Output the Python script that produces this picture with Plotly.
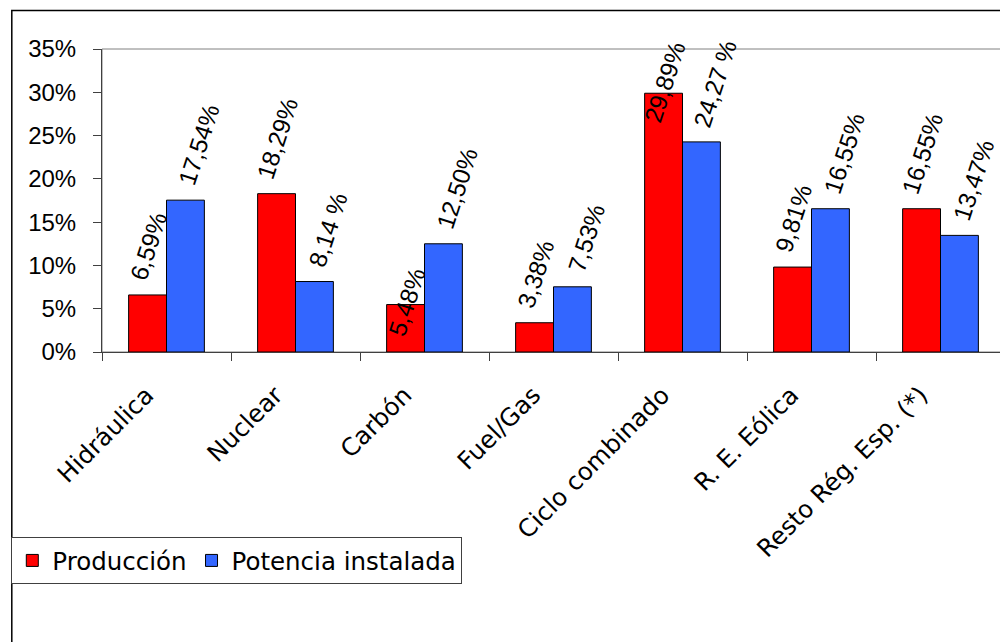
import plotly.graph_objects as go

categories = ["Hidráulica", "Nuclear", "Carbón", "Fuel/Gas", "Ciclo combinado", "R. E. Eólica", "Resto Rég. Esp. (*)"]
produccion = [6.59, 18.29, 5.48, 3.38, 29.89, 9.81, 16.55]
potencia = [17.54, 8.14, 12.50, 7.53, 24.27, 16.55, 13.47]
produccion_labels = ["6,59%", "18,29%", "5,48%", "3,38%", "29,89%", "9,81%", "16,55%"]
potencia_labels = ["17,54%", "8,14 %", "12,50%", "7,53%", "24,27 %", "16,55%", "13,47%"]
y_ticks = [0, 5, 10, 15, 20, 25, 30, 35]
y_ticktext = ["0%", "5%", "10%", "15%", "20%", "25%", "30%", "35%"]

RED = "#FF0000"
BLUE = "#3366FF"
LABEL_FONT = dict(family="Liberation Sans, Arial, sans-serif", size=24.5, color="black")
YTICK_FONT = dict(family="Liberation Sans, Arial, sans-serif", size=24, color="black")
TEXT_FONT = dict(family="DejaVu Sans, sans-serif", size=24.5, color="black")

# page has an 8px body margin: figure occupies page pixels 8..1008 x 8..642
OFF = 8
W, H = 1000, 634
PL, PR, PT, PB = 99, 1005, 49, 352   # plot area in page pixels
ML, MR, MT, MB = PL - OFF, (W + OFF) - PR, PT - OFF, (H + OFF) - PB
PW = PR - PL
PH = PB - PT

def px_x(p):
    return (p - PL) / PW

def px_y(p):
    return (PB - p) / PH

fig = go.Figure()
fig.add_trace(go.Bar(name="Producción", x=categories, y=produccion,
                     marker=dict(color=RED, line=dict(color="black", width=1))))
fig.add_trace(go.Bar(name="Potencia instalada", x=categories, y=potencia,
                     marker=dict(color=BLUE, line=dict(color="black", width=1))))

bargap = 0.413
half = (1 - bargap) / 4
# label nudges (style): labels moved inside in the original chart
nudge = {(0, 2): -46, (0, 4): -44}
series_xshift = [1, 14]
annotations = []
for s, (vals, labs, off) in enumerate([(produccion, produccion_labels, -half),
                                        (potencia, potencia_labels, half)]):
    for i, (v, t) in enumerate(zip(vals, labs)):
        annotations.append(dict(x=i + off, y=v, xref="x", yref="y", text=t,
                                textangle=-72, showarrow=False,
                                xanchor="center", yanchor="bottom",
                                xshift=series_xshift[s], yshift=9 + nudge.get((s, i), 0),
                                font=LABEL_FONT))

shapes = [
    dict(type="rect", xref="paper", yref="paper", x0=0, x1=1, y0=0, y1=1,
         line=dict(color="#808080", width=1), layer="below"),
    dict(type="rect", xref="paper", yref="paper", x0=px_x(8.5), x1=px_x(1020),
         y0=px_y(660), y1=px_y(10.5), line=dict(color="black", width=1.5)),
]

fig.update_layout(
    width=W, height=H,
    margin=dict(l=ML, r=MR, t=MT, b=MB, pad=0),
    paper_bgcolor="white", plot_bgcolor="white",
    barmode="group", bargap=bargap, bargroupgap=0,
    showlegend=True,
    legend=dict(orientation="h", x=px_x(8), y=px_y(537), xanchor="left", yanchor="top",
                bordercolor="#404040", borderwidth=1, font=TEXT_FONT,
                bgcolor="white", traceorder="normal"),
    xaxis=dict(type="category", tickson="boundaries", ticks="outside", ticklen=8,
               tickcolor="#404040", showline=True, linecolor="#404040", linewidth=1,
               tickangle=-45, tickfont=TEXT_FONT, showgrid=False,
               ticklabelstandoff=18, ticklabelshift=-20),
    yaxis=dict(range=[0, 35], tickmode="array", tickvals=y_ticks, ticktext=y_ticktext,
               ticks="outside", ticklen=8,
               tickcolor="#404040", showline=True, linecolor="#404040", linewidth=1,
               showgrid=False, zeroline=False, tickfont=YTICK_FONT, ticklabelstandoff=12),
    annotations=annotations,
    shapes=shapes,
)

fig.write_html("out.html")
